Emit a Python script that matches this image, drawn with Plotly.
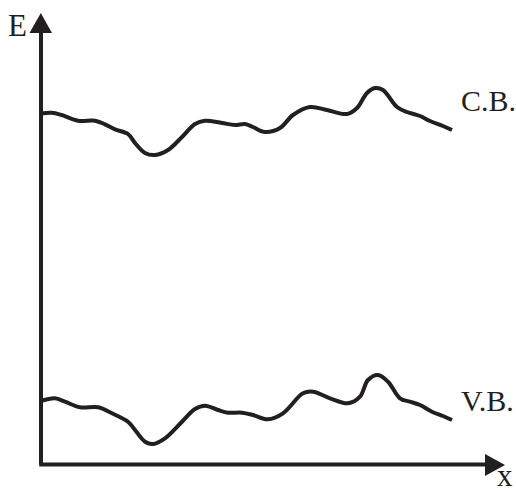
import plotly.graph_objects as go

# Band edges (arbitrary units: x along sample, E energy)
cb_x = [0, 10.7, 20.7, 37, 54, 64, 74, 87, 94, 104, 114, 127, 141, 154, 164, 181, 194, 204, 212,
        224, 239, 252, 269, 286, 306, 316, 326, 334, 342, 356, 366, 379, 389, 402, 411]
cb_e = [351, 351.8, 349.5, 343.8, 343.8, 340.2, 335.2, 330.5, 321.5, 311.5, 309.5, 314.5, 327.5,
        340.5, 343.8, 341.5, 339.5, 340.5, 337.5, 332.5, 336.5, 349.5, 357.5, 354.5, 350.5, 356.5,
        371.5, 376.5, 374.5, 357.5, 352.5, 348.5, 343.5, 338.5, 334.5]

vb_x = [0, 14, 24, 39, 57, 71, 87, 94, 104, 112, 124, 141, 154, 164, 177, 187, 201, 212, 227,
        242, 262, 272, 289, 307, 319, 327, 337, 347, 359, 369, 379, 391, 402, 411]
vb_e = [63.5, 66.2, 62.8, 57.2, 57.2, 51.2, 42.8, 34.5, 22.8, 20.5, 26.2, 42.8, 55.5, 58.8, 54.5,
        51.8, 51.8, 49.5, 45.2, 51.2, 71.2, 72.8, 66.2, 61.2, 67.8, 84.5, 89.5, 82.8, 66.2, 62.8,
        59.5, 52.8, 48.5, 44.5]

band_labels = ["C.B.", "V.B."]
axis_labels = ["E", "x"]

INK = "#231f20"
FONT = "Liberation Serif"

fig = go.Figure()
for xs, es in [(cb_x, cb_e), (vb_x, vb_e)]:
    fig.add_trace(go.Scatter(x=xs, y=es, mode="lines",
                             line=dict(color=INK, width=4, shape="spline", smoothing=1.0),
                             hoverinfo="skip", showlegend=False))

# axes with arrows
fig.add_shape(type="line", x0=0, y0=0, x1=0, y1=433, line=dict(color=INK, width=4))
fig.add_shape(type="line", x0=-1.8, y0=0, x1=446, y1=0, line=dict(color=INK, width=4))
fig.add_shape(type="path", path="M -11.5,431.5 L 11,431.5 L -0.2,451.5 Z",
              fillcolor=INK, line=dict(color=INK, width=0))
fig.add_shape(type="path", path="M 444,10.5 L 444,-11.5 L 464,-0.5 Z",
              fillcolor=INK, line=dict(color=INK, width=0))

fig.add_annotation(x=-12.5, y=439, text=axis_labels[0], showarrow=False, xanchor="right",
                   yanchor="middle", font=dict(family=FONT, size=31, color=INK))
fig.add_annotation(x=463.5, y=-29.5, text=axis_labels[1], showarrow=False, xanchor="center",
                   yanchor="bottom", borderpad=0, font=dict(family=FONT, size=31, color=INK))
fig.add_annotation(x=418, y=364, text=band_labels[0], showarrow=False, xanchor="left",
                   yanchor="middle", font=dict(family=FONT, size=30, color=INK))
fig.add_annotation(x=418, y=64, text=band_labels[1], showarrow=False, xanchor="left",
                   yanchor="middle", font=dict(family=FONT, size=30, color=INK))

fig.update_layout(width=516, height=494, margin=dict(l=0, r=0, t=0, b=0),
                  paper_bgcolor="white", plot_bgcolor="white",
                  xaxis=dict(range=[-41, 475], visible=False, fixedrange=True),
                  yaxis=dict(range=[-29.5, 464.5], visible=False, fixedrange=True))
fig.write_html("out.html")
